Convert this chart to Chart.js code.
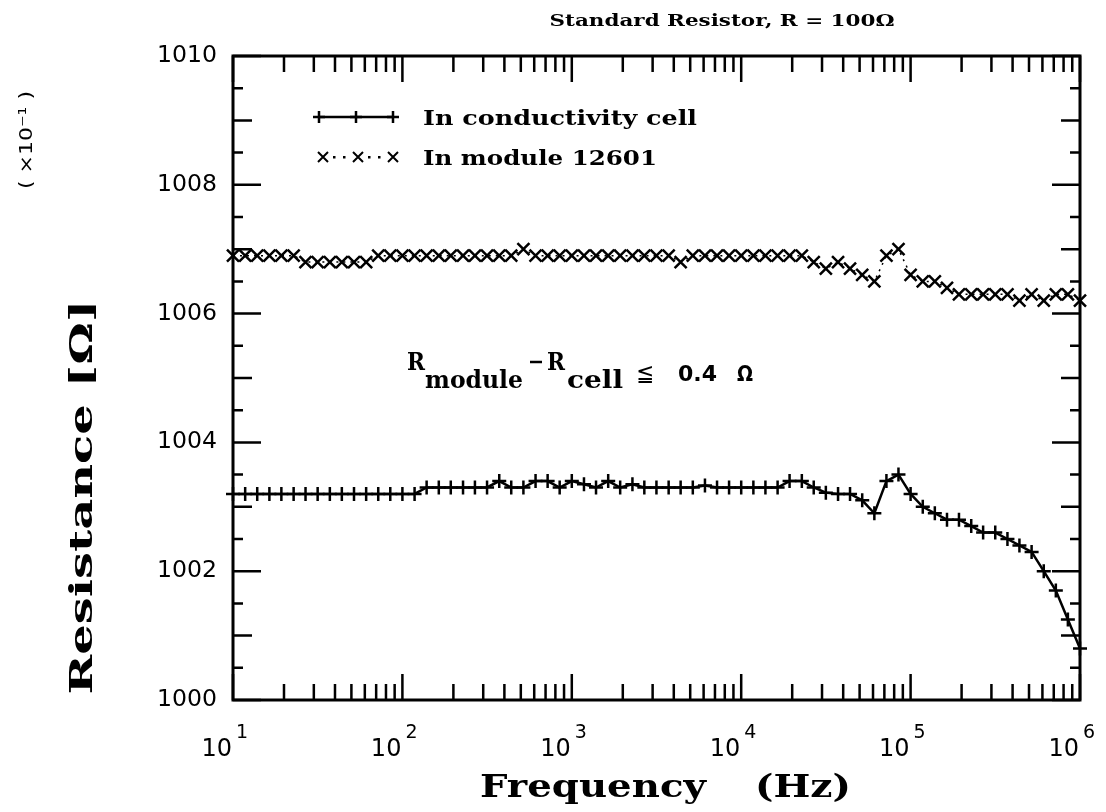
<!DOCTYPE html>
<html>
<head>
<meta charset="utf-8">
<script src="https://cdn.jsdelivr.net/npm/chart.js@4.4.1/dist/chart.umd.min.js"></script>
<style>
  html, body { margin: 0; padding: 0; background: #ffffff; }
  #wrap { width: 1106px; height: 812px; }
</style>
</head>
<body>
<div id="wrap"><canvas id="c" width="1106" height="812"></canvas></div>
<script>
// ---- Data ----
const freqHz = [
  10, 11.8, 13.9, 16.4, 19.3, 22.8, 26.8, 31.6, 37.3, 43.9, 51.8, 61.1, 72.0, 84.8,
  100, 118, 139, 164, 193, 228, 268, 316, 373, 439, 518, 611, 720, 848,
  1000, 1180, 1390, 1640, 1930, 2280, 2680, 3160, 3730, 4390, 5180, 6110, 7200, 8480,
  10000, 11800, 13900, 16400, 19300, 22800, 26800, 31600, 37300, 43900, 51800, 61100, 72000, 84800,
  100000, 118000, 139000, 164000, 193000, 228000, 268000, 316000, 373000, 439000, 518000, 611000, 720000, 848000,
  1000000
];
const cellOhm = [
  1003.2, 1003.2, 1003.2, 1003.2, 1003.2, 1003.2, 1003.2, 1003.2, 1003.2, 1003.2, 1003.2, 1003.2, 1003.2, 1003.2,
  1003.2, 1003.2, 1003.3, 1003.3, 1003.3, 1003.3, 1003.3, 1003.3, 1003.4, 1003.3, 1003.3, 1003.4, 1003.4, 1003.3,
  1003.4, 1003.35, 1003.3, 1003.4, 1003.3, 1003.35, 1003.3, 1003.3, 1003.3, 1003.3, 1003.3, 1003.33, 1003.3, 1003.3,
  1003.3, 1003.3, 1003.3, 1003.3, 1003.4, 1003.4, 1003.3, 1003.22, 1003.2, 1003.2, 1003.1, 1002.9, 1003.4, 1003.5,
  1003.2, 1003.0, 1002.9, 1002.8, 1002.8, 1002.7, 1002.6, 1002.6, 1002.5, 1002.4, 1002.3, 1002.0, 1001.7, 1001.25,
  1000.8
];
const moduleOhm = [
  1006.9, 1006.9, 1006.9, 1006.9, 1006.9, 1006.9, 1006.8, 1006.8, 1006.8, 1006.8, 1006.8, 1006.8, 1006.9, 1006.9,
  1006.9, 1006.9, 1006.9, 1006.9, 1006.9, 1006.9, 1006.9, 1006.9, 1006.9, 1006.9, 1007.0, 1006.9, 1006.9, 1006.9,
  1006.9, 1006.9, 1006.9, 1006.9, 1006.9, 1006.9, 1006.9, 1006.9, 1006.9, 1006.8, 1006.9, 1006.9, 1006.9, 1006.9,
  1006.9, 1006.9, 1006.9, 1006.9, 1006.9, 1006.9, 1006.8, 1006.7, 1006.8, 1006.7, 1006.6, 1006.5, 1006.9, 1007.0,
  1006.6, 1006.5, 1006.5, 1006.4, 1006.3, 1006.3, 1006.3, 1006.3, 1006.3, 1006.2, 1006.3, 1006.2, 1006.3, 1006.3,
  1006.2
];
const yTickLabels = [1000, 1002, 1004, 1006, 1008, 1010];
const xTickExponents = [1, 2, 3, 4, 5, 6];
const seriesNames = ["In conductivity cell", "In module 12601"];
const titleText = "Standard Resistor, R = 100\u03A9";

// ---- helpers ----
const SERIF = '"DejaVu Serif", "Liberation Serif", serif';
const SANS = '"DejaVu Sans", "Liberation Sans", sans-serif';

function fitText(ctx, text, x, y, w, font, align) {
  ctx.font = font;
  const m = ctx.measureText(text).width;
  const s = w / m;
  ctx.save();
  ctx.translate(x, y);
  ctx.scale(s, 1);
  ctx.textAlign = align || 'left';
  ctx.fillText(text, 0, 0);
  ctx.restore();
}

const framePlugin = {
  id: 'frame',
  beforeDraw(chart) {
    const ctx = chart.ctx;
    ctx.save();
    ctx.fillStyle = '#fff';
    ctx.fillRect(0, 0, chart.width, chart.height);
    ctx.restore();
  },
  afterDraw(chart) {
    const ctx = chart.ctx;
    const a = chart.chartArea;
    const xs = chart.scales.x, ys = chart.scales.y;
    ctx.save();
    ctx.strokeStyle = '#000';
    ctx.fillStyle = '#000';
    ctx.lineCap = 'butt';

    // frame
    ctx.lineWidth = 3;
    ctx.strokeRect(a.left, a.top, a.right - a.left, a.bottom - a.top);

    // x ticks (bottom & top), log minor ticks
    ctx.lineWidth = 2.5;
    for (let e = 1; e <= 6; e++) {
      for (let m = 1; m <= 9; m++) {
        const v = m * Math.pow(10, e);
        if (v > 1e6) break;
        const px = xs.getPixelForValue(v);
        const len = (m === 1) ? 26 : 16;
        ctx.beginPath();
        ctx.moveTo(px, a.bottom); ctx.lineTo(px, a.bottom - len);
        ctx.moveTo(px, a.top); ctx.lineTo(px, a.top + len);
        ctx.stroke();
      }
    }
    // y ticks (left & right), every 0.5
    for (let k = 0; k <= 20; k++) {
      const v = 1000 + k * 0.5;
      const py = ys.getPixelForValue(v);
      let len = 10;
      if (k % 4 === 0) len = 28; else if (k % 2 === 0) len = 19;
      ctx.beginPath();
      ctx.moveTo(a.left, py); ctx.lineTo(a.left + len, py);
      ctx.moveTo(a.right, py); ctx.lineTo(a.right - len, py);
      ctx.stroke();
    }

    // y tick labels
    ctx.textBaseline = 'middle';
    yTickLabels.forEach(v => {
      fitText(ctx, String(v), a.left - 16, ys.getPixelForValue(v), 60, '23px ' + SANS, 'right');
    });

    // x tick labels 10^n
    ctx.textBaseline = 'alphabetic';
    xTickExponents.forEach(e => {
      const px = xs.getPixelForValue(Math.pow(10, e));
      ctx.font = '24px ' + SANS;
      ctx.textAlign = 'right';
      ctx.fillText('10', px - 1, 756);
      ctx.font = '19px ' + SANS;
      ctx.textAlign = 'left';
      ctx.fillText(String(e), px + 3, 738);
    });

    // title
    fitText(ctx, titleText, 722, 26, 345, 'bold 17px ' + SERIF, 'center');

    // axis titles
    fitText(ctx, 'Frequency', 480, 797, 226, 'bold 32px ' + SERIF, 'left');
    fitText(ctx, '(Hz)', 755, 797, 96, 'bold 32px ' + SERIF, 'left');

    ctx.save();
    ctx.translate(92, 497);
    ctx.rotate(-Math.PI / 2);
    fitText(ctx, 'Resistance [\u03A9]', 0, 0, 395, 'bold 31px ' + SERIF, 'center');
    ctx.restore();
    ctx.save();
    ctx.translate(32, 140);
    ctx.rotate(-Math.PI / 2);
    fitText(ctx, '( \u00D710\u207B\u00B9 )', 0, 0, 98, '18px ' + SANS, 'center');
    ctx.restore();

    // legend
    const r1 = 117, r2 = 157;
    ctx.lineWidth = 2.5;
    ctx.beginPath(); ctx.moveTo(319, r1); ctx.lineTo(393, r1); ctx.stroke();
    [319, 356, 393].forEach(x => {
      ctx.beginPath();
      ctx.moveTo(x - 6, r1); ctx.lineTo(x + 6, r1);
      ctx.moveTo(x, r1 - 6); ctx.lineTo(x, r1 + 6);
      ctx.stroke();
    });
    ctx.lineWidth = 2;
    [323, 358, 393].forEach(x => {
      ctx.beginPath();
      ctx.moveTo(x - 5, r2 - 5); ctx.lineTo(x + 5, r2 + 5);
      ctx.moveTo(x - 5, r2 + 5); ctx.lineTo(x + 5, r2 - 5);
      ctx.stroke();
    });
    [334, 344, 369, 379].forEach(x => { ctx.fillRect(x - 1, r2 - 1, 2.5, 2.5); });
    fitText(ctx, seriesNames[0], 423, r1 + 8, 274, 'bold 20px ' + SERIF, 'left');
    fitText(ctx, seriesNames[1], 423, r2 + 8, 234, 'bold 20px ' + SERIF, 'left');

    // annotation  R_module - R_cell <= 0.4 Ohm
    fitText(ctx, 'R', 407, 370, 18, 'bold 25px ' + SERIF, 'left');
    fitText(ctx, 'module', 425, 388, 98, 'bold 24px ' + SERIF, 'left');
    ctx.lineWidth = 2.5;
    ctx.beginPath(); ctx.moveTo(530, 362); ctx.lineTo(542, 362); ctx.stroke();
    fitText(ctx, 'R', 547, 370, 18, 'bold 25px ' + SERIF, 'left');
    fitText(ctx, 'cell', 567, 388, 56, 'bold 24px ' + SERIF, 'left');
    fitText(ctx, '\u2266', 636, 381, 18, '24px ' + SANS, 'left');
    fitText(ctx, '0.4', 678, 381, 39, 'bold 22px ' + SANS, 'left');
    fitText(ctx, '\u03A9', 737, 381, 16, 'bold 22px ' + SANS, 'left');

    ctx.restore();
  }
};

const cellData = freqHz.map((f, i) => ({ x: f, y: cellOhm[i] }));
const moduleData = freqHz.map((f, i) => ({ x: f, y: moduleOhm[i] }));

new Chart(document.getElementById('c').getContext('2d'), {
  type: 'line',
  data: {
    datasets: [
      {
        label: seriesNames[0],
        data: cellData,
        borderColor: '#000',
        backgroundColor: '#000',
        borderWidth: 2.5,
        pointStyle: 'cross',
        pointRadius: 7,
        pointBorderWidth: 2.5,
        tension: 0,
        clip: false
      },
      {
        label: seriesNames[1],
        data: moduleData,
        borderColor: '#000',
        backgroundColor: '#000',
        borderWidth: 1.5,
        borderDash: [2, 5],
        pointStyle: 'crossRot',
        pointRadius: 8.5,
        pointBorderWidth: 2.5,
        tension: 0,
        clip: false
      }
    ]
  },
  options: {
    responsive: false,
    animation: false,
    layout: { padding: { left: 233, right: 26, top: 56, bottom: 112 } },
    plugins: { legend: { display: false }, tooltip: { enabled: false }, title: { display: false } },
    scales: {
      x: { type: 'logarithmic', min: 10, max: 1000000, display: false },
      y: { type: 'linear', min: 1000, max: 1010, display: false }
    }
  },
  plugins: [framePlugin]
});
</script>
</body>
</html>
